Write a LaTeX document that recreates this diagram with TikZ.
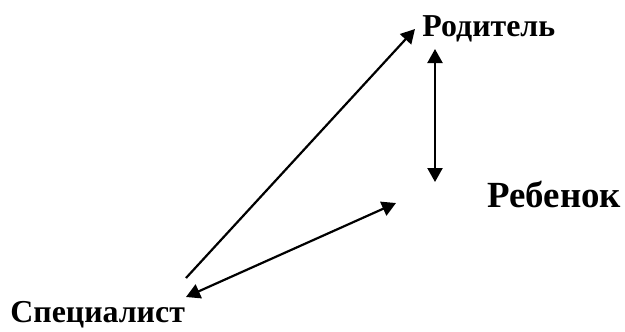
\documentclass[tikz,border=0pt]{standalone}
\usepackage{fontspec}
\setmainfont{Liberation Serif}
\usetikzlibrary{arrows.meta}
\definecolor{mInk}{HTML}{000000}
\tikzset{
 role/.style={inner sep=0pt, anchor=base west, font=\fontsize{16}{18}\selectfont\bfseries, text=mInk},
 link/.style={line width=1.1bp, draw=mInk, -{Triangle[length=7bp,width=7.5bp]}},
 dlink/.style={line width=1.1bp, draw=mInk, {Triangle[length=7bp,width=7.5bp]}-{Triangle[length=7bp,width=7.5bp]}}
}
\begin{document}
\begin{tikzpicture}[x=0.5bp,y=-0.5bp]
\useasboundingbox (0,0) rectangle (625,331);
\node[role] (par) at (422,36) {Родитель};
\node[role, font=\fontsize{18.5}{21}\selectfont\bfseries] (chi) at (487,207) {Ребенок};
\node[role] (spe) at (10,322) {Специалист};
% arrow ends
\coordinate (speA) at (186,278);
\coordinate (parA) at (415,29);
\coordinate (parB) at (435,49);
\coordinate (chiB) at (435,182);
\coordinate (speC) at (186,297);
\coordinate (chiC) at (396,203);
\draw[link] (speA) -- (parA);
\draw[dlink] (parB) -- (chiB);
\draw[dlink] (speC) -- (chiC);
\end{tikzpicture}
\end{document}
